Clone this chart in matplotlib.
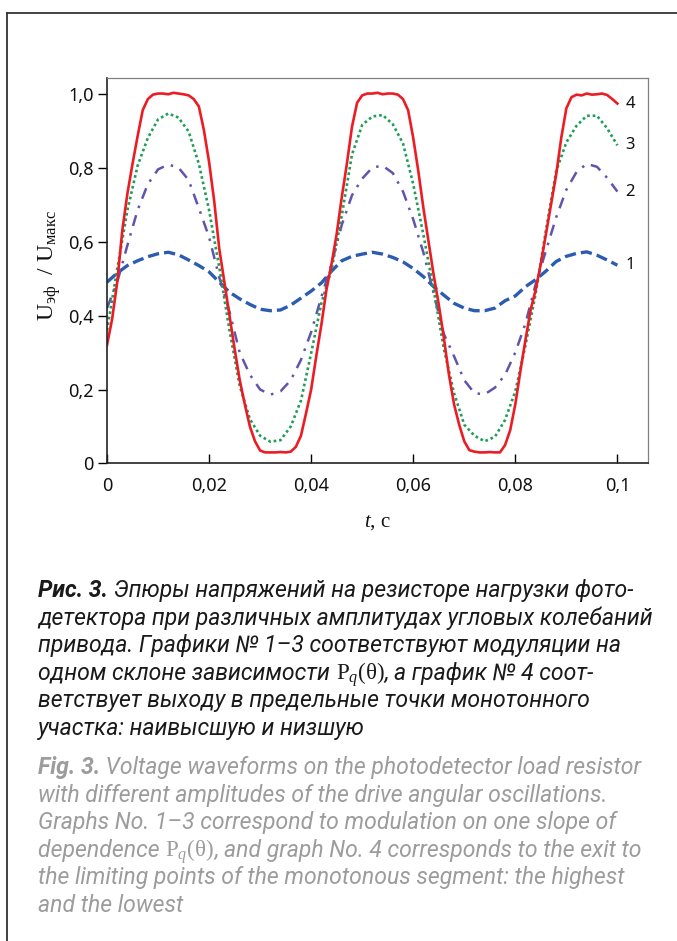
import numpy as np
import matplotlib.pyplot as plt
from matplotlib.lines import Line2D

plt.rcParams['mathtext.fontset'] = 'custom'
plt.rcParams['mathtext.rm'] = 'Liberation Serif'
plt.rcParams['mathtext.it'] = 'Liberation Serif:italic'
plt.rcParams['mathtext.bf'] = 'Liberation Serif:bold'

# sample times, ms (curves 1-3)
t_ms = [0, 2, 4, 6, 8, 10, 12, 14, 16, 18,
        20, 22, 24, 26, 28, 30, 32, 34, 36, 38,
        40, 42, 44, 46, 48, 50, 52, 54, 56, 58,
        60, 62, 64, 66, 68, 70, 72, 74, 76, 78,
        80, 82, 84, 86, 88, 90, 92, 94, 96, 98,
        100]
# finer sampling for the steep curve 4
t4_ms = [0, 1, 2, 3, 4, 5, 6, 7, 8, 9,
         10, 11, 12, 13, 14, 15, 16, 17, 18, 19,
         20, 21, 22, 23, 24, 25, 26, 27, 28, 29,
         30, 31, 32, 33, 34, 35, 36, 37, 38, 39,
         40, 41, 42, 43, 44, 45, 46, 47, 48, 49,
         50, 51, 52, 53, 54, 55, 56, 57, 58, 59,
         60, 61, 62, 63, 64, 65, 66, 67, 68, 69,
         70, 71, 72, 73, 74, 75, 76, 77, 78, 79,
         80, 81, 82, 83, 84, 85, 86, 87, 88, 89,
         90, 91, 92, 93, 94, 95, 96, 97, 98, 99,
         100]

# U_eff / U_max
curve_1 = [0.49, 0.515, 0.535, 0.548, 0.559, 0.567, 0.571, 0.564, 0.55, 0.535,
           0.518, 0.49, 0.463, 0.445, 0.43, 0.417, 0.413, 0.415, 0.428, 0.447,
           0.466, 0.488, 0.52, 0.548, 0.56, 0.566, 0.571, 0.566, 0.557, 0.545,
           0.527, 0.505, 0.478, 0.455, 0.433, 0.42, 0.413, 0.413, 0.42, 0.44,
           0.453, 0.478, 0.497, 0.52, 0.546, 0.56, 0.568, 0.572, 0.563, 0.55,
           0.536]
curve_2 = [0.42, 0.49, 0.59, 0.685, 0.755, 0.795, 0.808, 0.80, 0.766, 0.69,
           0.612, 0.503, 0.41, 0.30, 0.24, 0.20, 0.186, 0.195, 0.225, 0.28,
           0.355, 0.45, 0.54, 0.645, 0.725, 0.77, 0.80, 0.805, 0.785, 0.735,
           0.66, 0.57, 0.46, 0.35, 0.29, 0.225, 0.19, 0.187, 0.205, 0.24,
           0.30, 0.379, 0.485, 0.575, 0.665, 0.74, 0.788, 0.81, 0.802, 0.772,
           0.735]
curve_3 = [0.36, 0.525, 0.685, 0.805, 0.88, 0.93, 0.946, 0.935, 0.897, 0.81,
           0.685, 0.53, 0.36, 0.21, 0.12, 0.075, 0.059, 0.063, 0.10, 0.17,
           0.298, 0.433, 0.525, 0.67, 0.835, 0.915, 0.938, 0.942, 0.917, 0.865,
           0.755, 0.618, 0.47, 0.31, 0.19, 0.105, 0.075, 0.06, 0.072, 0.118,
           0.195, 0.32, 0.46, 0.63, 0.79, 0.868, 0.913, 0.94, 0.94, 0.906,
           0.86]
curve_4 = [0.32, 0.39, 0.49, 0.63, 0.73, 0.81, 0.885, 0.955, 0.985, 0.997,
           1.0, 1.0, 0.998, 1.002, 1.0, 0.998, 0.995, 0.985, 0.965, 0.90,
           0.815, 0.71, 0.58, 0.49, 0.40, 0.31, 0.226, 0.16, 0.10, 0.06,
           0.035, 0.03, 0.03, 0.03, 0.031, 0.03, 0.032, 0.045, 0.075, 0.136,
           0.20, 0.29, 0.375, 0.47, 0.54, 0.62, 0.72, 0.81, 0.91, 0.975,
           0.995, 1.0, 1.0, 1.002, 0.998, 1.0, 1.0, 0.997, 0.985, 0.955,
           0.88, 0.79, 0.69, 0.60, 0.51, 0.43, 0.34, 0.24, 0.16, 0.105,
           0.06, 0.036, 0.032, 0.03, 0.03, 0.031, 0.03, 0.03, 0.05, 0.09,
           0.16, 0.25, 0.335, 0.415, 0.47, 0.54, 0.62, 0.70, 0.78, 0.88,
           0.96, 0.99, 0.997, 0.995, 1.0, 0.997, 0.998, 1.0, 0.996, 0.985,
           0.973]
curve_names = ['1', '2', '3', '4']

x_ticks = [0, 0.02, 0.04, 0.06, 0.08, 0.1]
x_tick_labels = ['0', '0,02', '0,04', '0,06', '0,08', '0,1']
y_ticks = [0, 0.2, 0.4, 0.6, 0.8, 1.0]
y_tick_labels = ['0', '0,2', '0,4', '0,6', '0,8', '1,0']

caption_ru = [
    [('Рис. 3.', 'bold'), (' Эпюры напряжений на резисторе нагрузки фото-', 'normal')],
    [('детектора при различных амплитудах угловых колебаний', 'normal')],
    [('привода. Графики № 1–3 соответствуют модуляции на', 'normal')],
    [('одном склоне зависимости ', 'normal'), (r'$\mathrm{P}_{q}\mathrm{(θ)}$', 'normal'),
     (', а график № 4 соот-', 'normal')],
    [('ветствует выходу в предельные точки монотонного', 'normal')],
    [('участка: наивысшую и низшую', 'normal')],
]
caption_en = [
    [('Fig. 3.', 'bold'), (' Voltage waveforms on the photodetector load resistor', 'normal')],
    [('with different amplitudes of the drive angular oscillations.', 'normal')],
    [('Graphs No. 1–3 correspond to modulation on one slope of', 'normal')],
    [('dependence ', 'normal'), (r'$\mathrm{P}_{q}\mathrm{(θ)}$', 'normal'),
     (', and graph No. 4 corresponds to the exit to', 'normal')],
    [('the limiting points of the monotonous segment: the highest', 'normal')],
    [('and the lowest', 'normal')],
]

W, H = 677, 941
fig = plt.figure(figsize=(W / 100, H / 100), dpi=100)


def fx(px):
    return px / W


def fy(py):
    return 1 - py / H


ax = fig.add_axes([fx(107), fy(463.5), fx(648) - fx(107), fy(78) - fy(463.5)])
t = np.array(t_ms) / 1000.0
t4 = np.array(t4_ms) / 1000.0

styles = [
    dict(color='#2b5cb0', lw=2.4, ls=(0, (3.4, 1.5))),
    dict(color='#5f55ad', lw=1.8, ls=(0, (4.5, 3.0, 1.0, 3.0))),
    dict(color='#1f9d57', lw=1.9, ls=(0, (1.0, 1.1))),
    dict(color='#ec1c24', lw=1.9, ls='-'),
]
curves = [(t, curve_1), (t, curve_2), (t, curve_3), (t4, curve_4)]
for (tt, vals), st, name in zip(curves, styles, curve_names):
    ax.plot(tt, vals, dash_capstyle='butt', solid_joinstyle='round', **st)
    ax.annotate(name, xy=(tt[-1], vals[-1]), xytext=(6, 0), textcoords='offset points',
                ha='left', va='center', fontsize=12, family='Noto Sans',
                color='#111111', annotation_clip=False)

ax.set_xlim(0, 0.106)
ax.set_ylim(0, 1.042)
ax.set_xticks(x_ticks)
ax.set_xticklabels(x_tick_labels)
ax.set_yticks(y_ticks)
ax.set_yticklabels(y_tick_labels)
for lab in ax.get_xticklabels() + ax.get_yticklabels():
    lab.set_family('Noto Sans')
    lab.set_fontsize(13)
    lab.set_color('#111111')
ax.tick_params(axis='x', direction='in', length=6.5, width=1.0, pad=10)
ax.tick_params(axis='y', direction='out', length=6.5, width=1.0, pad=3)
for side in ['left', 'bottom']:
    ax.spines[side].set_color('#222222')
    ax.spines[side].set_linewidth(1.2)
for side in ['top', 'right']:
    ax.spines[side].set_color('#808080')
    ax.spines[side].set_linewidth(0.9)

fig.text(fx(50), fy(265), r'$\mathrm{U}_{\mathrm{эф}}\ \ /\ \mathrm{U}_{\mathrm{макс}}$',
         rotation=90, ha='center', va='center', fontsize=17, color='#111111')
fig.text(fx(377), fy(522), r'$\mathit{t}$, с', ha='center', va='center',
         fontsize=15, family='Liberation Serif', color='#111111')

# page frame (left and top only)
fig.add_artist(Line2D([fx(7), fx(7)], [fy(13), 0], transform=fig.transFigure,
                      color='#333333', lw=1.3))
fig.add_artist(Line2D([fx(7), 1], [fy(13), fy(13)], transform=fig.transFigure,
                      color='#333333', lw=1.3))

renderer = fig.canvas.get_renderer()


def write_line(x_px, y_px, pieces, color, size):
    x = x_px
    for txt, weight in pieces:
        tt = fig.text(fx(x), fy(y_px), txt, color=color, fontsize=size, style='italic',
                      weight=weight, family='Roboto', ha='left', va='baseline')
        x += tt.get_window_extent(renderer).width


cap_size = 16.6
for i, pieces in enumerate(caption_ru):
    write_line(38, 597 + i * 27.6, pieces, '#1a1a1a', cap_size)
for i, pieces in enumerate(caption_en):
    write_line(38, 774 + i * 27.6, pieces, '#9c9c9c', cap_size)

fig.savefig('out.png', dpi=100)
